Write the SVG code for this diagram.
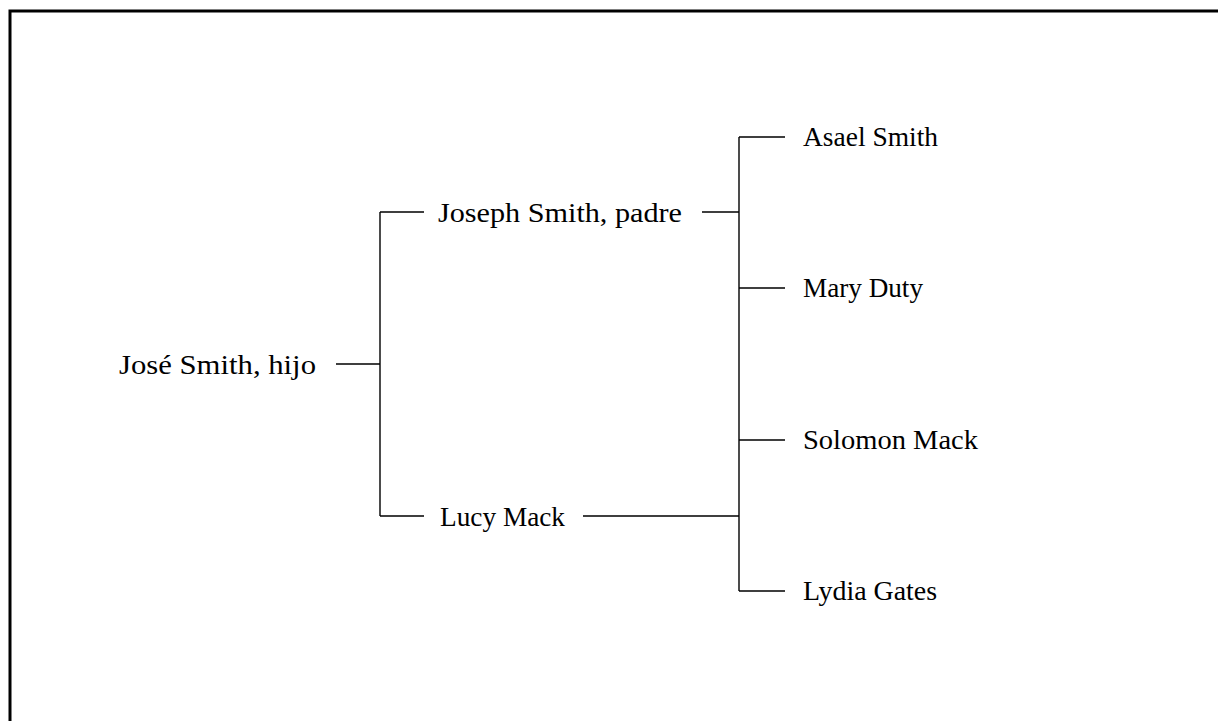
<svg xmlns="http://www.w3.org/2000/svg" width="1218" height="721" viewBox="0 0 1218 721">
<style>
.t{font-family:"Liberation Serif","DejaVu Serif",serif;font-size:27px;fill:#000}
.c{stroke:#000;stroke-width:1.4;fill:none}
</style>
<rect x="0" y="0" width="1218" height="721" fill="#fff"/>
<rect x="10" y="11" width="1400" height="900" fill="none" stroke="#000" stroke-width="3"/>
<g id="connectors" class="c">
<path d="M336 364H380M380 212V516M380 212H424M380 516H424"/>
<path d="M702 212H739M583 516H739M739 137V591M739 137H785M739 288H785M739 440H785M739 591H785"/>
</g>
<g id="jose"><text class="t" x="119" y="374" textLength="197" lengthAdjust="spacingAndGlyphs">José Smith, hijo</text></g>
<g id="joseph"><text class="t" x="438" y="222" textLength="244" lengthAdjust="spacingAndGlyphs">Joseph Smith, padre</text></g>
<g id="lucy"><text class="t" x="440" y="526" textLength="125" lengthAdjust="spacingAndGlyphs">Lucy Mack</text></g>
<g id="asael"><text class="t" x="803" y="146" textLength="135" lengthAdjust="spacingAndGlyphs">Asael Smith</text></g>
<g id="mary"><text class="t" x="803" y="297" textLength="120" lengthAdjust="spacingAndGlyphs">Mary Duty</text></g>
<g id="solomon"><text class="t" x="803" y="449" textLength="175" lengthAdjust="spacingAndGlyphs">Solomon Mack</text></g>
<g id="lydia"><text class="t" x="803" y="600" textLength="134" lengthAdjust="spacingAndGlyphs">Lydia Gates</text></g>
</svg>
